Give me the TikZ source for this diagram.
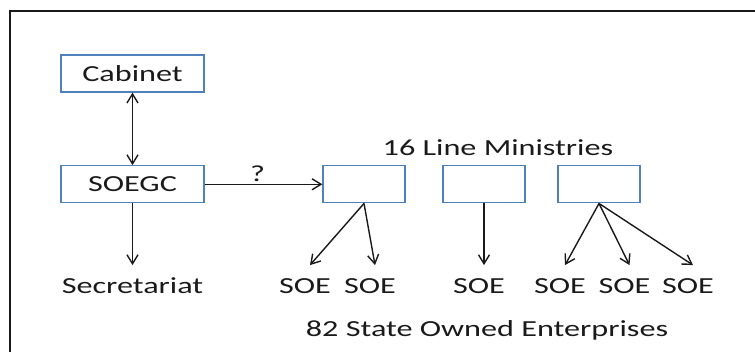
\documentclass[tikz,border=0pt]{standalone}
\usepackage{fontspec}
\setmainfont{Carlito}[FakeStretch=1.4]
\usetikzlibrary{arrows.meta}
\definecolor{boxblue}{HTML}{4F81BD}
\definecolor{ink}{HTML}{1A1A1A}

\begin{document}
\begin{tikzpicture}[x=1pt, y=-1pt,
  every node/.style={font=\fontsize{23}{28}\selectfont, text=ink},
  unit/.style={draw=boxblue, line width=1.3pt, minimum height=37pt, inner sep=0pt},
  wide/.style={unit, minimum width=143pt},
  narrow/.style={unit, minimum width=82pt},
  caption/.style={anchor=base, inner sep=0pt},
  leaf/.style={anchor=base, inner xsep=0pt, inner ysep=0pt, text height=28pt, text depth=0pt},
  arr/.style={draw=ink, line width=1.4pt, -{Straight Barb[length=9pt, width=11pt]}},
  biarr/.style={draw=ink, line width=1.4pt, {Straight Barb[length=9pt, width=11pt]}-{Straight Barb[length=9pt, width=11pt]}}]

\useasboundingbox (0,0) rectangle (755,352);

% open frame around the chart
\draw[line width=2pt, ink] (10,352) -- (10,11.5) -- (755,11.5);

% governing bodies
\node[wide] (cabinet) at (132.5,73.5) {Cabinet};
\node[wide] (soegc) at (132.5,184.3) {SOEGC};

% line ministries
\node[caption] (lmtitle) at (498,156) {16 Line Ministries};
\node[narrow] (m1) at (364,184.3) {};
\node[narrow] (m2) at (484,184.3) {};
\node[narrow] (m3) at (599,184.3) {};

% lower level
\node[leaf] (sec) at (132.5,293.3) {Secretariat};
\node[leaf] (s1) at (305,293.3) {SOE};
\node[leaf] (s2) at (370,293.3) {SOE};
\node[leaf] (s3) at (479,293.3) {SOE};
\node[leaf] (s4) at (560,293.3) {SOE};
\node[leaf] (s5) at (624.5,293.3) {SOE};
\node[leaf] (s6) at (688,293.3) {SOE};
\node[caption] (soetitle) at (487,337) {82 State Owned Enterprises};

% connectors
\draw[biarr] (cabinet.south) -- (soegc.north);
\draw[arr] (soegc.south) -- (sec.north);
\draw[arr] (soegc.east) -- node[caption, pos=0.45, yshift=2.6pt] (q) {?} (m1.west);
\draw[arr] (m1.south) -- ([xshift=5pt]s1.north);
\draw[arr] (m1.south) -- ([xshift=5pt]s2.north);
\draw[arr] (m2.south) -- (m2.south |- s3.north);
\draw[arr] (m3.south) -- ([xshift=5pt]s4.north);
\draw[arr] (m3.south) -- ([xshift=5pt]s5.north);
\draw[arr] (m3.south) -- ([xshift=5pt]s6.north);
\end{tikzpicture}
\end{document}
